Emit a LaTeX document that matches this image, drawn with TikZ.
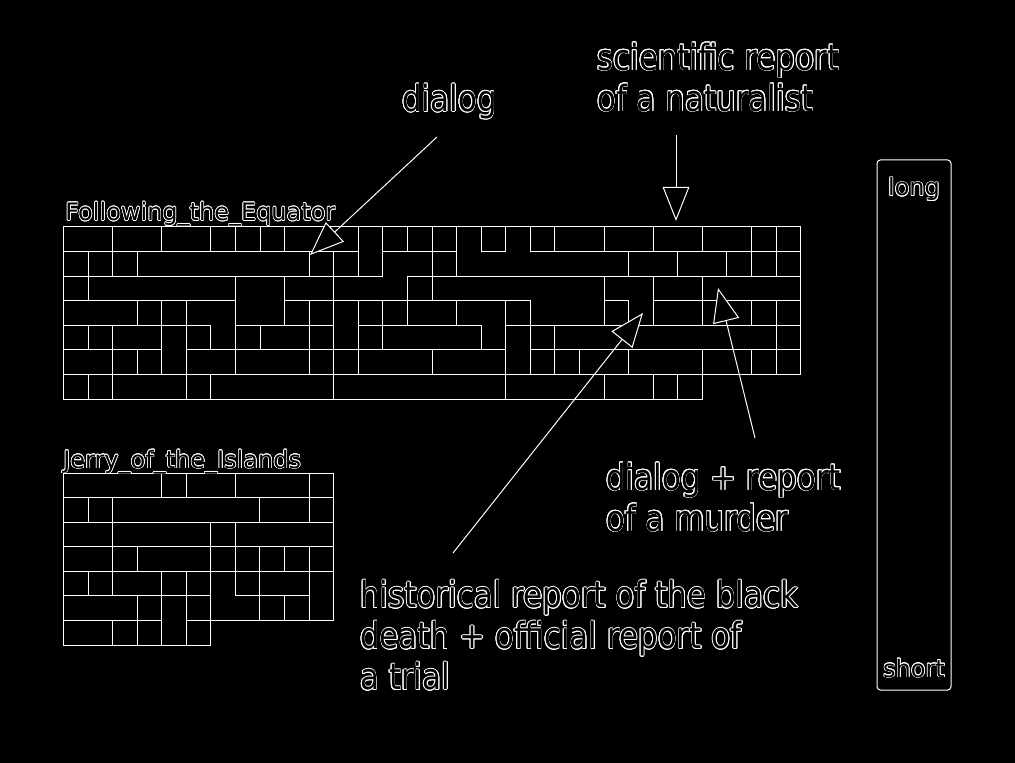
\documentclass[tikz,border=0pt]{standalone}
\usepackage{fontspec}
\setmainfont{DejaVu Sans}
\newfontfamily\lblfont[FakeStretch=0.86]{DejaVu Sans}
\usepackage{contour}
\contourlength{0.5pt}
\usetikzlibrary{arrows.meta}
\newcommand{\ctext}[1]{\contour{white}{#1}}
\tikzset{
  gridline/.style={draw=white, line width=0.75pt, line cap=rect},
  biglabel/.style={text=black, font=\lblfont\fontsize{27pt}{30.75pt}\selectfont, inner sep=0pt, align=left},
  smalllabel/.style={text=black, font=\fontsize{18pt}{21pt}\selectfont, inner sep=0pt},
  pointer/.style={draw=white, line width=0.75pt, -{Triangle[fill=black, length=25.5pt, width=20pt]}},
  legendbox/.style={draw=white, line width=0.75pt, rounded corners=2.5pt, minimum width=55.5pt, minimum height=397.5pt, inner sep=0pt}
}
\begin{document}
\begin{tikzpicture}[x=0.75pt, y=-0.75pt]
\fill[black] (0,0) rectangle (1015,763);
\useasboundingbox (0,0) rectangle (1015,763);

% Following_the_Equator mosaic
\begin{scope}[shift={(63.5,227)}, x=18.43pt, y=-18.45pt]
\foreach \r/\a/\b in {0/0/30, 1/0/12, 1/13/16, 1/17/18, 1/19/30, 2/0/13, 2/14/30,
  3/0/7, 3/9/19, 3/22/23, 3/24/30, 4/0/6, 4/7/11, 4/12/17, 4/18/30,
  5/0/4, 5/5/18, 5/19/30, 6/0/30, 7/0/26}
  \draw[gridline] (\a,\r) -- (\b,\r);
\foreach \c/\a/\b in {0/0/7, 30/0/6, 1/1/3, 1/4/5, 1/6/7, 2/0/2, 2/4/7,
  3/1/2, 3/3/4, 3/5/6, 4/0/1, 4/3/6, 5/3/7, 6/0/1, 6/4/5, 6/6/7,
  7/0/1, 7/2/6, 8/0/1, 8/4/5, 9/0/1, 9/2/4, 10/1/2, 10/3/6, 11/1/7,
  12/0/2, 12/3/6, 13/0/2, 13/3/5, 14/0/1, 14/2/4, 15/0/3, 15/5/6,
  16/0/2, 16/3/4, 17/0/1, 17/4/5, 18/0/1, 18/3/7, 19/0/1, 19/3/6,
  20/0/1, 20/4/6, 21/5/6, 22/0/1, 22/2/4, 22/6/7, 23/1/2, 23/3/4, 23/5/6,
  24/0/1, 24/2/4, 24/6/7, 25/1/2, 25/6/7, 26/0/1, 26/2/4, 26/5/7,
  27/1/2, 28/0/2, 28/3/4, 28/5/6, 29/0/2, 29/3/6}
  \draw[gridline] (\c,\a) -- (\c,\b);
\end{scope}

% Jerry_of_the_Islands mosaic
\begin{scope}[shift={(63.5,473.3)}, x=18.42pt, y=-18.40pt]
\foreach \r/\a/\b in {0/0/11, 1/0/11, 2/0/11, 3/0/11, 4/0/11, 5/0/6, 5/7/10,
  6/0/4, 6/5/11, 7/0/6}
  \draw[gridline] (\a,\r) -- (\b,\r);
\foreach \c/\a/\b in {0/0/7, 11/0/6, 1/1/2, 1/4/5, 2/1/5, 2/6/7, 3/3/4, 3/5/7,
  4/0/1, 4/4/7, 5/0/1, 5/4/7, 6/2/7, 7/0/1, 7/2/5, 8/1/2, 8/3/6,
  9/3/4, 9/5/6, 10/0/2, 10/3/6}
  \draw[gridline] (\c,\a) -- (\c,\b);
\end{scope}

% titles of the mosaics
\node[smalllabel, anchor=base west] (equatorlabel) at (65,220.5) {\ctext{Following\_the\_Equator}};
\node[smalllabel, anchor=base west] (jerrylabel) at (63,468.3) {\ctext{Jerry\_of\_the\_Islands}};

% legend
\node[legendbox] (legend) at (914,425) {};
\node[smalllabel, anchor=base] (long) at (914,196) {\ctext{long}};
\node[smalllabel, anchor=base] (short) at (914,677) {\ctext{short}};

% annotations
\node[biglabel, anchor=base west] (dialog) at (402,111.5) {\ctext{dialog}};
\node[biglabel, anchor=north west] (naturalist) at (597,42.5) {\ctext{scientific report}\\\ctext{of a naturalist}};
\node[biglabel, anchor=north west] (murder) at (606,462.5) {\ctext{dialog + report}\\\ctext{of a murder}};
\node[biglabel, anchor=north west] (blackdeath) at (360,580) {\ctext{historical report of the black}\\\ctext{death + official report of}\\\ctext{a trial}};

% arrows
\coordinate (dialogtail) at (437,137);
\coordinate (dialogtip) at (310,255);
\coordinate (naturalisttail) at (676,135);
\coordinate (naturalisttip) at (676,221);
\coordinate (blackdeathtail) at (453,553);
\coordinate (blackdeathtip) at (643,313);
\coordinate (murdertail) at (755,438);
\coordinate (murdertip) at (718,288);
\draw[pointer] (dialogtail) -- (dialogtip);
\draw[pointer] (naturalisttail) -- (naturalisttip);
\draw[pointer] (blackdeathtail) -- (blackdeathtip);
\draw[pointer] (murdertail) -- (murdertip);
\end{tikzpicture}
\end{document}
